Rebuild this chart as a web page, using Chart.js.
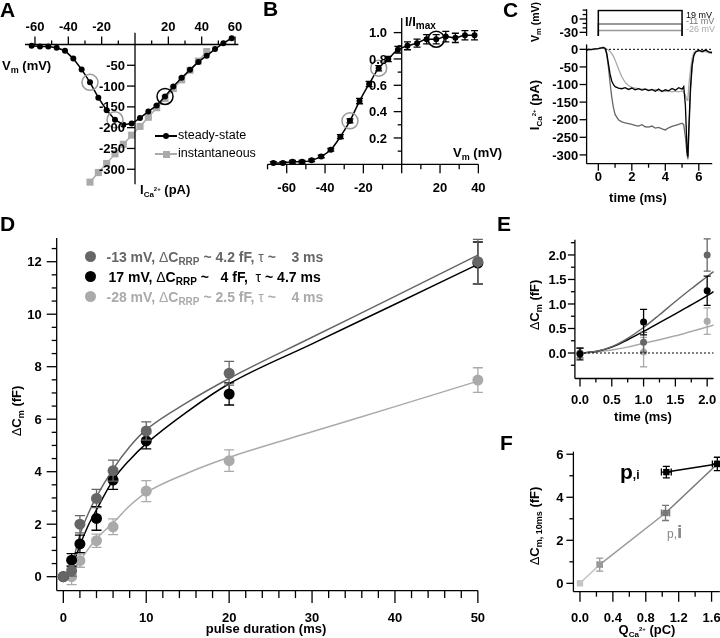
<!DOCTYPE html>
<html>
<head>
<meta charset="utf-8">
<script src="https://cdn.jsdelivr.net/npm/chart.js@4.4.1/dist/chart.umd.min.js"></script>
<style>
html, body { margin: 0; padding: 0; background: #fff; }
#fig { position: relative; width: 720px; height: 638px; overflow: hidden; }
#fig canvas { position: absolute; left: 0; top: 0; }
.t { position: absolute; white-space: pre; line-height: 1; font-family: "Liberation Sans", Arial, sans-serif; font-weight: bold; font-size: 13px; color: #000; }
.big { font-size: 21px; }
.n { font-weight: normal; }
.sub { position: relative; font-size: 9px; top: 3px; }
.rot { transform: translate(-50%, -50%) rotate(-90deg); }
.ctr { transform: translateX(-50%); }
.box { position: absolute; }
</style>
</head>
<body>
<div id="fig">
  <canvas id="cA" width="720" height="638"></canvas>
  <canvas id="cB" width="720" height="638"></canvas>
  <canvas id="cCv" width="720" height="638"></canvas>
  <canvas id="cCi" width="720" height="638"></canvas>
  <canvas id="cD" width="720" height="638"></canvas>
  <canvas id="cE" width="720" height="638"></canvas>
  <canvas id="cF" width="720" height="638"></canvas>

  <!-- A -->
  <div class="t big" style="left:0px;top:-1px">A</div>
  <div class="t" style="left:2px;top:59px">V<span class="sub">m</span> (mV)</div>
  <div class="t" style="left:140px;top:183px">I<span class="sub" style="font-size:8px">Ca<span style="position:relative;top:-6px;font-size:6px">2+</span></span> (pA)</div>
  <div class="box" style="left:155px;top:135.3px;width:22px;height:1.5px;background:#000"></div>
  <div class="box" style="left:163px;top:133px;width:6px;height:6px;border-radius:50%;background:#000"></div>
  <div class="t n" style="left:178px;top:129px;font-size:12.5px">steady-state</div>
  <div class="box" style="left:155px;top:153.3px;width:22px;height:1.5px;background:#aaa"></div>
  <div class="box" style="left:162.5px;top:150.5px;width:7px;height:7px;background:#aaa"></div>
  <div class="t n" style="left:178px;top:147px;font-size:12.5px">instantaneous</div>

  <!-- B -->
  <div class="t big" style="left:263px;top:-2px">B</div>
  <div class="t" style="left:405px;top:15px">I/I<span class="sub" style="font-size:10px">max</span></div>
  <div class="t" style="left:453px;top:145.5px">V<span class="sub">m</span> (mV)</div>

  <!-- C -->
  <div class="t big" style="left:503px;top:-1px">C</div>
  <div class="t n" style="left:686px;top:10.5px;font-size:9px">19 mV</div>
  <div class="t n" style="left:686px;top:17.4px;font-size:9px;color:#777">-11 mV</div>
  <div class="t n" style="left:686px;top:24.7px;font-size:9px;color:#aaa">-26 mV</div>
  <div class="t rot" style="left:535px;top:21.5px;font-size:10.5px">V<span class="sub" style="font-size:7.5px;top:2px">m</span> (mV)</div>
  <div class="t rot" style="left:533.5px;top:105px">I<span class="sub" style="font-size:8px">Ca<span style="position:relative;top:-6px;font-size:6px">2+</span></span> (pA)</div>
  <div class="t ctr" style="left:638px;top:191px">time (ms)</div>

  <!-- D -->
  <div class="t big" style="left:0px;top:213px">D</div>
  <div class="box" style="left:84.5px;top:251px;width:11px;height:11px;border-radius:50%;background:#666"></div>
  <div class="box" style="left:84.5px;top:271px;width:11px;height:11px;border-radius:50%;background:#000"></div>
  <div class="box" style="left:84.5px;top:291px;width:11px;height:11px;border-radius:50%;background:#aaa"></div>
  <div class="t" style="left:106.5px;top:249.6px;font-size:14px;color:#666">-13 mV, <span class="n">Δ</span>C<span class="sub" style="font-size:10px">RRP</span> ~ 4.2 fF, <span class="n">τ</span> ~    3 ms</div>
  <div class="t" style="left:108.5px;top:269.6px;font-size:14px;color:#000">17 mV, <span class="n">Δ</span>C<span class="sub" style="font-size:10px">RRP</span> ~   4 fF,  <span class="n">τ</span> ~ 4.7 ms</div>
  <div class="t" style="left:106.5px;top:289.6px;font-size:14px;color:#aaa">-28 mV, <span class="n">Δ</span>C<span class="sub" style="font-size:10px">RRP</span> ~ 2.5 fF, <span class="n">τ</span> ~    4 ms</div>
  <div class="t rot" style="left:15.5px;top:411px"><span class="n">Δ</span>C<span class="sub">m</span> (fF)</div>
  <div class="t ctr" style="left:266px;top:622px">pulse duration (ms)</div>

  <!-- E -->
  <div class="t big" style="left:497px;top:213px">E</div>
  <div class="t rot" style="left:533.5px;top:305px"><span class="n">Δ</span>C<span class="sub">m</span> (fF)</div>
  <div class="t ctr" style="left:643px;top:410px">time (ms)</div>

  <!-- F -->
  <div class="t big" style="left:500px;top:432px">F</div>
  <div class="t rot" style="left:533.5px;top:526px"><span class="n">Δ</span>C<span class="sub">m, 10ms</span> (fF)</div>
  <div class="t ctr" style="left:647px;top:623px">Q<span class="sub" style="font-size:8px">Ca<span style="position:relative;top:-6px;font-size:6px">2+</span></span> (pC)</div>
  <div class="t" style="left:620px;top:460.5px;font-size:21px">p<span style="font-size:12px">,i</span></div>
  <div class="t" style="left:667px;top:521.5px;font-size:19px;color:#888"><span class="n" style="font-size:12px">p,</span>i</div>
</div>

<script>
// A: current-voltage relation
const ivVolt = [-62,-57,-52,-47,-42,-37,-32,-27,-22,-17,-12,-7,-2,3,8,13,18,23,28,33,38,43,48,53,58];
const ivSteady = [-3,-5,-5,-8,-15,-34,-60,-91,-128,-158,-181,-193,-190,-177,-161,-147,-125,-101,-80,-61,-42,-27,-11,3,15];
const ivInstVolt = [-27,-22,-17,-12,-7,-2,3,8,13,18,23,28,33,38,43];
const ivInst = [-331,-308,-286,-263,-240,-218,-197,-175,-152,-130,-106,-85,-62,-40,-17];
const aGreyMarks = [[-27,-91],[-12,-181]];
const aBlackMarks = [[18,-125]];
const aXTicks = [-60,-40,-20,20,40,60];
const aYTicks = [-50,-100,-150,-200,-250,-300];

// B: activation
const actVolt = [-67,-62,-57,-52,-47,-42,-37,-32,-27,-22,-17,-12,-7,-2,3,8,13,18,23,28,33,38];
const actNorm = [0.01,0.01,0.02,0.02,0.03,0.06,0.11,0.21,0.33,0.48,0.61,0.73,0.80,0.87,0.90,0.92,0.95,0.95,0.97,0.96,0.98,0.98];
const actErr = [0.01,0.01,0.01,0.01,0.01,0.01,0.01,0.015,0.015,0.02,0.02,0.02,0.02,0.025,0.03,0.03,0.035,0.035,0.04,0.035,0.035,0.035];
const bGreyMarks = [[-27,0.33],[-12,0.73]];
const bBlackMarks = [[18,0.95]];
const bXTicks = [-60,-40,-20,20,40];
const bYTicks = [0.2,0.4,0.6,0.8,1.0];

// C: voltage steps and currents
const pulseT = [-0.7,0,0,5,5,6.8];
const holdMv = -70;
const stepMv = [19,-11,-26];
const traceT = [-0.7,-0.6,-0.4,-0.2,0,0.2,0.3,0.4,0.5,0.6,0.7,0.8,0.9,1.0,1.2,1.4,1.6,1.8,2.0,2.2,2.4,2.6,2.8,3.0,3.2,3.4,3.6,3.8,4.0,4.2,4.4,4.6,4.8,5.0,5.1,5.2,5.3,5.35,5.4,5.5,5.6,5.7,5.8,6.0,6.2,6.4,6.6,6.8];
const trace19 = [-2,0,-1,1,2,4,5,3,-10,-40,-70,-90,-100,-106,-110,-112,-109,-114,-110,-115,-112,-116,-113,-117,-114,-119,-113,-120,-115,-118,-111,-116,-109,-113,-106,-160,-290,-305,-230,-110,-45,-18,-8,-3,-6,-2,-7,-9];
const traceM11 = [-3,-1,0,1,2,5,6,2,-15,-50,-95,-135,-165,-185,-200,-206,-209,-211,-213,-216,-218,-214,-220,-221,-218,-224,-222,-226,-229,-223,-219,-216,-213,-210,-214,-250,-300,-312,-250,-125,-50,-16,-6,-2,-7,-4,-9,-11];
const traceM26 = [0,1,0,-1,2,3,4,3,1,-2,-6,-12,-20,-30,-55,-78,-94,-103,-108,-110,-112,-113,-112,-115,-116,-114,-118,-117,-120,-118,-121,-119,-121,-118,-122,-130,-145,-140,-105,-60,-25,-10,-5,-4,-8,-6,-10,-12];
const cXTicks = [0,2,4,6];
const cYTicks = [0,-50,-100,-150,-200,-250,-300];

// D: capacitance vs pulse duration
const pulseDur = [0,1,2,4,6,10,20,50];
const dCmMid = [0,0.22,2.0,2.98,4.04,5.55,7.75,12.0];
const dCmMidErr = [0.05,0.2,0.33,0.35,0.4,0.35,0.45,0.85];
const dCmHigh = [0,0.63,1.25,2.22,3.68,5.17,6.96,11.95];
const dCmHighErr = [0.05,0.25,0.33,0.45,0.35,0.3,0.42,0.8];
const dCmLow = [0,0.0,0.61,1.37,1.9,3.26,4.42,7.49];
const dCmLowErr = [0.05,0.3,0.25,0.25,0.3,0.4,0.41,0.47];
const fitT = [0.5,1,2,3,4,6,8,10,15,20,30,40,50];
const fitMid = [0,0.4,1.6,2.4,3.05,4.1,4.95,5.6,6.65,7.55,9.12,10.68,12.25];
const fitHigh = [0,0.3,1.2,1.95,2.55,3.68,4.45,5.07,6.3,7.35,8.87,10.38,11.9];
const fitLow = [0,0.15,0.6,1.05,1.45,2.05,2.7,3.2,3.95,4.55,5.52,6.48,7.45];
const dXTicks = [0,10,20,30,40,50];
const dYTicks = [0,2,4,6,8,10,12];

// E: short pulses
const shortDur = [0,1,2];
const shortMid = [0,0.22,2.0];
const shortMidErr = [0.1,0.2,0.33];
const shortHigh = [-0.02,0.63,1.27];
const shortHighErr = [0.12,0.26,0.3];
const shortLow = [0,0.02,0.65];
const shortLowErr = [0.1,0.3,0.27];
const fitShortT = [0,0.25,0.5,0.75,1,1.25,1.5,1.75,2,2.1];
const fitShortMid = [0,0.03,0.13,0.3,0.52,0.78,1.05,1.31,1.56,1.66];
const fitShortHigh = [0,0.03,0.12,0.27,0.44,0.62,0.8,0.98,1.17,1.25];
const fitShortLow = [0,0.02,0.06,0.12,0.2,0.27,0.35,0.44,0.53,0.57];
const eXTicks = [0,0.5,1,1.5,2];
const eYTicks = [0,0.5,1,1.5,2];

// F: capacitance vs charge
const qBlack = [1.05,1.67];
const cmBlack = [5.17,5.55];
const cmBlackErr = [0.27,0.31];
const qBlackErr = [0.06,0.06];
const qGrey = [0,0.24,1.04,1.67];
const cmGrey = [0,0.87,3.27,5.55];
const cmGreyErr = [0,0.3,0.35,0];
const qGreyErr = [0,0.03,0.05,0];
const greyShades = ['#c4c4c4','#999','#777','#000'];
const fXTicks = [0,0.4,0.8,1.2,1.6];
const fYTicks = [0,2,4,6];

const FONT = 'bold 13px "Liberation Sans", Arial, sans-serif';

function pts(xs, ys) { return xs.map((x, i) => ({x: x, y: ys[i]})); }
function pairs(list) { return list.map(p => ({x: p[0], y: p[1]})); }
function range(a, b, step) { const r = []; for (let v = a; v <= b + 1e-9; v += step) r.push(+v.toFixed(4)); return r; }
function pad(x0, x1, y0, y1) { return {left: x0, right: 720 - x1, top: y0, bottom: 638 - y1}; }

// error bars, drawn just before each dataset's own marks
Chart.register({
  id: 'errorBars',
  beforeDatasetDraw(chart, args) {
    const ds = chart.data.datasets[args.index];
    if (!ds.errY && !ds.errX) return;
    const ctx = chart.ctx, sx = chart.scales.x, sy = chart.scales.y;
    const cap = ds.cap || 4;
    ctx.save();
    ctx.lineWidth = 1.3;
    ds.data.forEach((p, i) => {
      ctx.strokeStyle = ds.errColors ? ds.errColors[i] : ds.borderColor;
      const x = sx.getPixelForValue(p.x), y = sy.getPixelForValue(p.y);
      ctx.beginPath();
      if (ds.errY && ds.errY[i]) {
        const y0 = sy.getPixelForValue(p.y - ds.errY[i]), y1 = sy.getPixelForValue(p.y + ds.errY[i]);
        ctx.moveTo(x, y0); ctx.lineTo(x, y1);
        ctx.moveTo(x - cap, y0); ctx.lineTo(x + cap, y0);
        ctx.moveTo(x - cap, y1); ctx.lineTo(x + cap, y1);
      }
      if (ds.errX && ds.errX[i]) {
        const x0 = sx.getPixelForValue(p.x - ds.errX[i]), x1 = sx.getPixelForValue(p.x + ds.errX[i]);
        ctx.moveTo(x0, y); ctx.lineTo(x1, y);
        ctx.moveTo(x0, y - cap); ctx.lineTo(x0, y + cap);
        ctx.moveTo(x1, y - cap); ctx.lineTo(x1, y + cap);
      }
      ctx.stroke();
    });
    ctx.restore();
  }
});

// Igor style axes, placed with the chart's own scales
function axesPlugin(cfg) {
  return {
    id: 'igorAxes',
    afterDatasetsDraw(chart) {
      const ctx = chart.ctx, sx = chart.scales.x, sy = chart.scales.y;
      ctx.save();
      ctx.strokeStyle = '#000'; ctx.fillStyle = '#000'; ctx.lineWidth = 1.3;
      ctx.font = FONT;
      const seg = (x0, y0, x1, y1) => { ctx.beginPath(); ctx.moveTo(x0, y0); ctx.lineTo(x1, y1); ctx.stroke(); };
      const ax = cfg.x;
      if (ax) {
        const y = sy.getPixelForValue(ax.at);
        seg(sx.getPixelForValue(ax.from), y, sx.getPixelForValue(ax.to), y);
        (ax.minor || []).forEach(v => { const x = sx.getPixelForValue(v); seg(x, y, x, y + ax.dir * ax.minorLen); });
        ctx.textAlign = 'center'; ctx.textBaseline = 'alphabetic';
        ax.major.forEach(v => {
          const x = sx.getPixelForValue(v);
          seg(x, y, x, y + ax.dir * ax.len);
          if (ax.fmt) ctx.fillText(ax.fmt(v), x, y + ax.labelDy);
        });
      }
      const ay = cfg.y;
      if (ay) {
        const x = sx.getPixelForValue(ay.at);
        seg(x, sy.getPixelForValue(ay.from), x, sy.getPixelForValue(ay.to));
        (ay.minor || []).forEach(v => { const y = sy.getPixelForValue(v); seg(x, y, x - ay.minorLen, y); });
        ctx.textAlign = 'right'; ctx.textBaseline = 'alphabetic';
        ay.major.forEach(v => {
          const y = sy.getPixelForValue(v);
          seg(x, y, x - ay.len, y);
          if (ay.fmt) ctx.fillText(ay.fmt(v), x + ay.labelDx, y + 4.6);
        });
      }
      ctx.restore();
    }
  };
}

function makeChart(id, area, xr, yr, datasets, axes) {
  return new Chart(document.getElementById(id), {
    type: 'scatter',
    data: {datasets: datasets},
    options: {
      responsive: false, animation: false, devicePixelRatio: 1,
      layout: {padding: area, autoPadding: false},
      plugins: {legend: {display: false}, tooltip: {enabled: false}},
      scales: {
        x: {type: 'linear', display: false, min: xr[0], max: xr[1]},
        y: {type: 'linear', display: false, min: yr[0], max: yr[1]}
      }
    },
    plugins: [axesPlugin(axes)]
  });
}

function marks(list, color, r) {
  return {data: pairs(list), showLine: false, pointRadius: r || 8, pointBackgroundColor: 'rgba(0,0,0,0)',
    pointBorderColor: color, pointBorderWidth: 1.5, clip: false};
}

const intFmt = v => String(v);

// ---- A
makeChart('cA', pad(18.3, 241.7, 32.0, 185.9), [-70, 64], [-340, 30], [
  marks(aBlackMarks, '#000'),
  marks(aGreyMarks, '#999'),
  {data: pts(ivVolt, ivSteady), showLine: true, borderColor: '#000', borderWidth: 1.5,
   pointRadius: 3, pointBackgroundColor: '#000', pointBorderWidth: 0, clip: false},
  {data: pts(ivInstVolt, ivInst), showLine: true, borderColor: '#aaa', borderWidth: 1.5,
   pointStyle: 'rect', pointRadius: 5, pointBackgroundColor: '#aaa', pointBorderWidth: 0, clip: false}
], {
  x: {at: 0, from: -66, to: 62, major: aXTicks, minor: [-50,-30,-10,10,30,50], dir: -1, len: 8, minorLen: 4, labelDy: -13.5, fmt: intFmt},
  y: {at: 0, from: 28, to: -336, major: aYTicks, len: 8, labelDx: -10, fmt: intFmt}
});

// ---- B
makeChart('cB', pad(263.7, 482.2, 16.8, 170.9), [-72, 42], [-0.05, 1.12], [
  marks(bBlackMarks, '#000'),
  marks(bGreyMarks, '#999'),
  {data: pts(actVolt, actNorm), errY: actErr, cap: 3.5, showLine: true, cubicInterpolationMode: 'monotone',
   borderColor: '#000', borderWidth: 1.5, pointRadius: 3, pointBackgroundColor: '#000', pointBorderWidth: 0, clip: false}
], {
  x: {at: 0, from: -70, to: 40, major: bXTicks.concat([0]), minor: [-70,-50,-30,-10,10,30], dir: 1, len: 9, minorLen: 5, labelDy: 27.4,
      fmt: v => v === 0 ? '' : String(v)},
  y: {at: 0, from: 0, to: 1.11, major: bYTicks, minor: [0.1,0.3,0.5,0.7,0.9], len: 8, minorLen: 4, labelDx: -14.7, fmt: v => v.toFixed(1)}
});

// ---- C, voltage steps
const stepColors = ['#000', '#777', '#999'];
makeChart('cCv', pad(586.6, 712.2, 9.2, 35.9), [-0.7, 6.8], [-38, 22],
  stepMv.map((mv, k) => ({
    data: pulseT.map((t, i) => ({x: t, y: (i === 2 || i === 3) ? mv : holdMv})),
    showLine: true, borderColor: stepColors[k], borderWidth: 1.5, pointRadius: 0
  })), {
  y: {at: -0.7, from: -38, to: 22, major: [0, -30], minor: [20, 10, -10, -20], len: 7, minorLen: 4, labelDx: -8.4, fmt: intFmt}
});

// ---- C, currents
makeChart('cCi', pad(586.6, 712.2, 44.4, 163.7), [-0.7, 6.8], [-325, 14], [
  {data: [{x: 0.4, y: 0}, {x: 6.8, y: 0}], showLine: true, borderColor: '#000', borderWidth: 1, borderDash: [2, 2], pointRadius: 0},
  {data: pts(traceT, trace19), showLine: true, borderColor: '#000', borderWidth: 1.3, pointRadius: 0},
  {data: pts(traceT, traceM26), showLine: true, borderColor: '#aaa', borderWidth: 1.3, pointRadius: 0},
  {data: pts(traceT, traceM11), showLine: true, borderColor: '#666', borderWidth: 1.3, pointRadius: 0}
], {
  x: {at: -325, from: -0.7, to: 6.8, major: cXTicks, minor: [1, 3, 5], dir: 1, len: 7, minorLen: 4, labelDy: 17, fmt: intFmt},
  y: {at: -0.7, from: -325, to: 14, major: cYTicks, len: 7, labelDx: -8.4, fmt: intFmt}
});

// ---- D
const dotDs = (ys, errs, col) => ({data: pts(pulseDur, ys), errY: errs, cap: 5, borderColor: col, showLine: false,
  pointRadius: 5.5, pointBackgroundColor: col, pointBorderWidth: 0, clip: false});
const fitDs = (xs, ys, col) => ({data: pts(xs, ys), showLine: true, cubicInterpolationMode: 'monotone',
  borderColor: col, borderWidth: 1.5, pointRadius: 0});
makeChart('cD', pad(56.7, 490.3, 230.2, 590.6), [-0.8, 51.5], [-0.53, 13.2], [
  dotDs(dCmMid, dCmMidErr, '#666'),
  dotDs(dCmHigh, dCmHighErr, '#000'),
  dotDs(dCmLow, dCmLowErr, '#aaa'),
  fitDs(fitT, fitMid, '#666'),
  fitDs(fitT, fitHigh, '#000'),
  fitDs(fitT, fitLow, '#aaa')
], {
  x: {at: -0.53, from: -0.8, to: 50, major: dXTicks, minor: range(2, 48, 2).filter(v => v % 10 !== 0), dir: 1, len: 12.5, minorLen: 7.5, labelDy: 31, fmt: intFmt},
  y: {at: -0.8, from: -0.53, to: 12.9, major: dYTicks, minor: range(0.5, 12.5, 0.5).filter(v => v % 2 !== 0), len: 10, minorLen: 5, labelDx: -15, fmt: intFmt}
});

// ---- E
const sDotDs = (ys, errs, col) => ({data: pts(shortDur, ys), errY: errs, cap: 3.5, borderColor: col, showLine: false,
  pointRadius: 3.5, pointBackgroundColor: col, pointBorderWidth: 0, clip: false});
makeChart('cE', pad(574.9, 714.8, 237.8, 378.5), [-0.08, 2.12], [-0.52, 2.35], [
  {data: [{x: 0, y: 0}, {x: 2.1, y: 0}], showLine: true, borderColor: '#000', borderWidth: 1, borderDash: [2, 2], pointRadius: 0},
  sDotDs(shortHigh, shortHighErr, '#000'),
  sDotDs(shortMid, shortMidErr, '#666'),
  sDotDs(shortLow, shortLowErr, '#aaa'),
  fitDs(fitShortT, fitShortMid, '#666'),
  fitDs(fitShortT, fitShortHigh, '#000'),
  fitDs(fitShortT, fitShortLow, '#aaa')
], {
  x: {at: -0.52, from: -0.08, to: 2.1, major: eXTicks, minor: [0.25, 0.75, 1.25, 1.75], dir: 1, len: 8, minorLen: 4, labelDy: 25, fmt: v => v.toFixed(1)},
  y: {at: -0.08, from: -0.52, to: 2.31, major: eYTicks, minor: [-0.25, 0.25, 0.75, 1.25, 1.75, 2.25], len: 7, minorLen: 4, labelDx: -8.3, fmt: v => v.toFixed(1)}
});

// ---- F
makeChart('cF', pad(573.4, 719.8, 447.8, 591.7), [-0.08, 1.7], [-0.39, 6.3], [
  {data: pts(qBlack, cmBlack), errY: cmBlackErr, errX: qBlackErr, cap: 3.5, showLine: true, borderColor: '#000', borderWidth: 1.5,
   pointStyle: 'rect', pointRadius: 4.5, pointBackgroundColor: '#000', pointBorderWidth: 0, clip: false},
  {data: pts(qGrey, cmGrey), errY: cmGreyErr, errX: qGreyErr, errColors: greyShades, cap: 3.5, showLine: true, borderColor: '#888', borderWidth: 1.5,
   segment: {borderColor: c => greyShades[c.p0DataIndex]},
   pointStyle: 'rect', pointRadius: 4.5, pointBackgroundColor: greyShades, pointBorderWidth: 0, clip: false}
], {
  x: {at: -0.39, from: -0.08, to: 1.7, major: fXTicks, minor: [0.2, 0.6, 1.0, 1.4], dir: 1, len: 10, minorLen: 5, labelDy: 30, fmt: v => v.toFixed(1)},
  y: {at: -0.08, from: -0.39, to: 6.12, major: fYTicks, minor: [1, 3, 5], len: 7, minorLen: 4, labelDx: -10, fmt: intFmt}
});
</script>
</body>
</html>
